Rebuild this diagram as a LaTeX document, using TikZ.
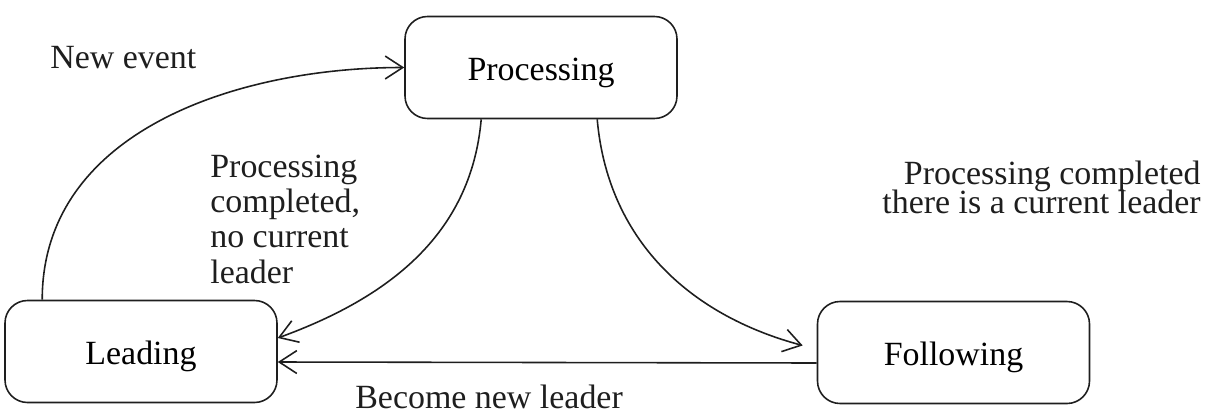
\documentclass[tikz,border=0pt]{standalone}
\usepackage{fontspec}
\setmainfont{Liberation Serif}
\usetikzlibrary{arrows.meta}
\definecolor{ink}{HTML}{1E1E1E}

\begin{document}
\begin{tikzpicture}[
  state/.style={draw=ink, line width=0.9pt, rounded corners=0.45cm, minimum width=5.44cm, minimum height=2.04cm, text height=15pt, text depth=0pt, font=\fontsize{19.3}{20}\selectfont},
  lbl/.style={inner sep=0pt, text=ink, font=\fontsize{19.3}{20.1}\selectfont},
  >={Straight Barb[length=10pt,width=13pt]}]
\useasboundingbox (0,0) rectangle (24.18,8.3);
% states
\node[state] (proc) at (10.82,6.95) {Processing};
\node[state] (lead) at (2.82,1.27) {Leading};
\node[state] (foll) at (19.07,1.25) {Following};
% transitions
\draw[->,ink,line width=0.9pt] ([xshift=0.76cm]lead.north west) to[out=90,in=180] (proc.west);
\draw[->,ink,line width=0.9pt] ([xshift=1.54cm]proc.south west) to[out=-95,in=20] ([yshift=0.27cm]lead.east);
\draw[->,ink,line width=0.9pt] ([xshift=3.86cm]proc.south west) to[out=-85,in=165] ([xshift=-0.28cm,yshift=0.14cm]foll.west);
\draw[->,ink,line width=0.9pt] ([yshift=-0.21cm]foll.west) -- ([yshift=-0.21cm]lead.east);
% labels (base = last line)
\node[lbl,anchor=base west] (evt) at (1.0,6.94) {New event};
\node[lbl,anchor=base west,align=left] (nolead) at (4.2,2.64) {Processing\\completed,\\no current\\leader};
\node[lbl,anchor=base east,align=right,font={\fontsize{19.3}{16.2}\selectfont\lineskiplimit=-20pt\relax}] (haslead) at (24.02,4.04) {Processing completed\\there is a current leader};
\node[lbl,anchor=base west] (become) at (7.1,0.14) {Become new leader};
\end{tikzpicture}
\end{document}
